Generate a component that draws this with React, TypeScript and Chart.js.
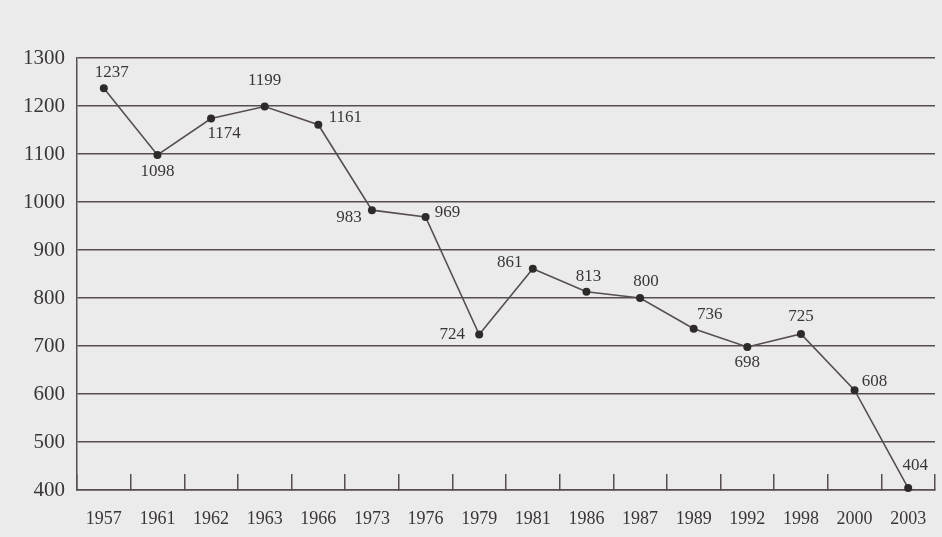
import React, { useEffect, useRef } from "react";
import { Chart, registerables } from "chart.js";

Chart.register(...registerables);

const years = ["1957", "1961", "1962", "1963", "1966", "1973", "1976", "1979", "1981", "1986", "1987", "1989", "1992", "1998", "2000", "2003"];
const values = [1237, 1098, 1174, 1199, 1161, 983, 969, 724, 861, 813, 800, 736, 698, 725, 608, 404];
const yMin = 400;
const yMax = 1300;
const yStep = 100;

// label placement (text centre offset from point), styling only
const labelOffsets: [number, number][] = [
  [8, -16], [0, 17], [13, 15], [0, -26], [27, -7], [-23, 7], [22, -4], [-27, 0],
  [-23, -6], [2, -15], [6, -16], [16, -14], [0, 16], [0, -17], [20, -9], [7, -23],
];

const FONT = "'Liberation Serif', 'DejaVu Serif', serif";
const INK = "#3b3636";
const LINE = "#574f4f";

const dataLabels = {
  id: "dataLabels",
  afterDatasetsDraw(chart: any) {
    const ctx = chart.ctx;
    const meta = chart.getDatasetMeta(0);
    ctx.save();
    ctx.font = `17px ${FONT}`;
    ctx.fillStyle = INK;
    ctx.textAlign = "center";
    ctx.textBaseline = "middle";
    meta.data.forEach((pt: any, i: number) => {
      const [dx, dy] = labelOffsets[i] || [0, -16];
      ctx.fillText(String(values[i]), pt.x + dx, pt.y + dy);
    });
    ctx.restore();
  },
};

export default function App() {
  const ref = useRef<HTMLCanvasElement | null>(null);
  useEffect(() => {
    if (!ref.current) return;
    const chart = new Chart(ref.current, {
      type: "line",
      data: {
        labels: years,
        datasets: [
          {
            data: values,
            borderColor: LINE,
            borderWidth: 1.6,
            tension: 0,
            pointRadius: 4,
            pointBackgroundColor: "#2e2a2a",
            pointBorderColor: "#2e2a2a",
            pointBorderWidth: 0,
            clip: false as any,
          },
        ],
      },
      options: {
        animation: false,
        responsive: true,
        maintainAspectRatio: false,
        layout: { padding: { top: 58, right: 7, left: 0, bottom: 0 } },
        plugins: { legend: { display: false }, tooltip: { enabled: false } },
        scales: {
          x: {
            offset: true,
            grid: {
              offset: true,
              drawOnChartArea: false,
              drawTicks: true,
              tickLength: -16,
              color: LINE,
              lineWidth: 1.5,
            },
            border: { display: true, color: LINE, width: 1.5 },
            ticks: {
              color: INK,
              font: { family: FONT, size: 18 },
              padding: 34,
              maxRotation: 0,
              autoSkip: false,
            },
            afterFit: (s: any) => {
              s.height = 47;
              s.paddingLeft = 0;
              s.paddingRight = 0;
            },
          },
          y: {
            min: yMin,
            max: yMax,
            grid: { color: LINE, lineWidth: 1.5, drawTicks: false },
            border: { display: true, color: LINE, width: 1.5 },
            ticks: {
              stepSize: yStep,
              color: INK,
              font: { family: FONT, size: 21 },
              padding: 12,
              callback: (v: any) => String(v),
            },
            afterFit: (s: any) => {
              s.width = 77;
            },
          },
        },
      },
      plugins: [dataLabels],
    });
    return () => chart.destroy();
  }, []);
  return (
    <div style={{ position: "fixed", left: 0, top: 0, width: 942, height: 537, background: "#ebebeb" }}>
      <canvas ref={ref} />
    </div>
  );
}
